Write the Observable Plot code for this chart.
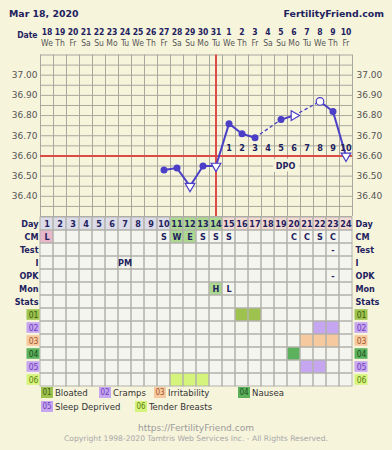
<!DOCTYPE html>
<html><head><meta charset="utf-8">
<script src="https://cdn.jsdelivr.net/npm/d3@7"></script>
<script src="https://cdn.jsdelivr.net/npm/@observablehq/plot@0.6"></script>
<style>
html,body{margin:0;padding:0;background:#f7f4dc;}
#wrap{position:relative;width:392px;height:450px;overflow:hidden;background:#f7f4dc;font-family:"DejaVu Sans",sans-serif;}
#wrap svg{position:absolute;left:0;overflow:visible;background:none;}
.abs{position:absolute;white-space:nowrap;line-height:1;}
.box{position:absolute;width:12px;height:11px;font-size:8px;text-align:center;line-height:11px;font-family:"DejaVu Sans Condensed","DejaVu Sans",sans-serif;}
.lg{position:absolute;font-size:9.5px;color:#333;line-height:11px;white-space:nowrap;font-family:"DejaVu Sans Condensed","DejaVu Sans",sans-serif;}
</style></head><body><div id="wrap"></div>
<script>
// ---------- data ----------
const dateLabels = ["18","19","20","21","22","23","24","25","26","27","28","29","30","31","1","2","3","4","5","6","7","8","9","10"];
const weekdayLabels = ["We","Th","Fr","Sa","Su","Mo","Tu","We","Th","Fr","Sa","Su","Mo","Tu","We","Th","Fr","Sa","Su","Mo","Tu","We","Th","Fr"];
const cycleDays = d3.range(1, 25);
const tempDays   = [10, 11, 12, 13, 14, 15, 16, 17, 19, 20, 22, 23, 24];
const tempValues = [36.53, 36.54, 36.45, 36.55, 36.55, 36.76, 36.71, 36.69, 36.78, 36.80, 36.87, 36.82, 36.60];
const tempMarkers = ["dot","dot","tri","dot","tri","dot","dot","dot","dot","triR","open","dot","tri"];
const coverline = 36.60;
const ovulationDay = 14;
const dpoDays = [15,16,17,18,19,20,21,22,23,24];
const dpoLabels = ["1","2","3","4","5","6","7","8","9","10"];
const tempTicks = [36.40, 36.50, 36.60, 36.70, 36.80, 36.90, 37.00];
const rowNames = ["Day","CM","Test","I","OPK","Mon","Stats","01","02","03","04","05","06"];
const phaseDays = [[1,2,3,4,5,6,7,8,9,10],[11,12,13,14],[15,16,17,18,19,20,21,22,23,24]];
const phaseColors = ["#dcdbe8","#acd98f","#f3dad2"];
const cmDays  = [1, 10, 11, 12, 13, 14, 15, 20, 21, 22, 23];
const cmCodes = ["L","S","W","E","S","S","S","C","C","S","C"];
const cmColoredDays = [1, 11, 12];
const cmColoredFills = ["#e8b7c9", "#acd98f", "#acd98f"];
const testDays = [23], testCodes = ["-"];
const intercourseDays = [7], intercourseCodes = ["PM"];
const opkDays = [23], opkCodes = ["-"];
const monDays = [14, 15], monCodes = ["H", "L"];
const monColoredDays = [14], monColoredFills = ["#acd98f"];
const symptomCodes = ["01","02","03","04","05","06"];
const symptomNames = ["Bloated","Cramps","Irritability","Nausea","Sleep Deprived","Tender Breasts"];
const symptomColors = ["#9dc34e","#c6a5f1","#f7c99e","#5cb15c","#c6a5f1","#d5f47c"];
const symptomTextColors = ["#3f5c12","#6b3fb3","#a2582e","#1d4f1d","#6b3fb3","#5d7d12"];
const symptomDays = [[16,17],[22,23],[21,22,23],[20],[21,22],[11,12,13]];

// ---------- style ----------
const NAVY = "#22225e", BLUE = "#4a3fc6", RED = "#dc4b47", GRID = "#a8a89f", BG = "#f7f4dc";
const FONT = "'DejaVu Sans', sans-serif";
const FONTC = "'DejaVu Sans Condensed', 'DejaVu Sans', sans-serif";
const wrap = document.getElementById("wrap");

function place(el, top) { el.style.top = top + "px"; wrap.appendChild(el); }
function addText(txt, css) { const d = document.createElement("div"); d.className = "abs"; d.textContent = txt; Object.assign(d.style, css); wrap.appendChild(d); return d; }

// title
addText("Mar 18, 2020", {left: "9px", top: "9px", fontSize: "9.4px", fontWeight: "bold", color: NAVY});
addText("FertilityFriend.com", {right: "8px", top: "9px", fontSize: "9.4px", fontWeight: "bold", color: NAVY});

const common = {width: 392, marginLeft: 40, marginRight: 40, x: {domain: [0.5, 24.5], axis: null}, style: {background: "none", overflow: "visible", fontFamily: FONT}};

// ---------- header (dates) ----------
const header = Plot.plot({
  ...common, height: 30, marginTop: 0, marginBottom: 0,
  y: {type: "point", domain: ["date", "wd"], range: [11.7, 23.3], padding: 0, axis: null},
  marks: [
    Plot.text(cycleDays, {x: d => d, y: () => "date", text: (d, i) => dateLabels[i], fill: NAVY, fontWeight: "bold", fontSize: 8.5, fontFamily: FONTC}),
    Plot.text(cycleDays, {x: d => d, y: () => "wd", text: (d, i) => weekdayLabels[i], fill: "#555", fontSize: 8.5, fontFamily: FONTC}),
    Plot.text(["Date"], {y: () => "date", frameAnchor: "left", textAnchor: "end", dx: -3, dy: 2.5, fill: NAVY, fontWeight: "bold", fontSize: 8.5, fontFamily: FONTC})
  ]
});
place(header, 20);

// ---------- temperature chart ----------
const tempData = tempDays.map((d, i) => ({day: d, temp: tempValues[i], marker: tempMarkers[i]}));
const segs = d3.pairs(tempData).map(([a, b]) => ({x1: a.day, y1: a.temp, x2: b.day, y2: b.temp, dashed: b.day - a.day > 1}));
const gridX = d3.range(0, 25).map(k => k + 0.5);
const gridY = d3.range(0, 17).map(k => 36.30 + k * 0.05);
const temp = Plot.plot({
  ...common, height: 170, marginTop: 4.5, marginBottom: 4,
  y: {domain: [36.3, 37.1], axis: null},
  marks: [
    Plot.ruleX(gridX, {stroke: GRID, strokeWidth: 1}),
    Plot.ruleY(gridY, {stroke: GRID, strokeWidth: 1}),
    Plot.axisY(tempTicks, {anchor: "left", tickSize: 0, tickPadding: 3, tickFormat: d => d.toFixed(2), fill: "#555", fontSize: 9}),
    Plot.axisY(tempTicks, {anchor: "right", tickSize: 0, tickPadding: 4, tickFormat: d => d.toFixed(2), fill: "#555", fontSize: 9}),
    Plot.ruleY([coverline], {stroke: RED, strokeWidth: 2}),
    Plot.ruleX([ovulationDay], {stroke: RED, strokeWidth: 2}),
    Plot.link(segs.filter(s => !s.dashed), {x1: "x1", y1: "y1", x2: "x2", y2: "y2", stroke: BLUE, strokeWidth: 2}),
    Plot.link(segs.filter(s => s.dashed), {x1: "x1", y1: "y1", x2: "x2", y2: "y2", stroke: BLUE, strokeWidth: 1.3, strokeDasharray: "3.5,2.5"}),
    Plot.text(dpoDays, {x: d => d, y: () => coverline, dy: -8, text: (d, i) => dpoLabels[i], fill: NAVY, fontWeight: "bold", fontSize: 9, fontFamily: FONTC}),
    Plot.text(["DPO"], {x: () => d3.mean(dpoDays), y: () => coverline, dy: 10, dx: -2, text: d => d, fill: NAVY, fontWeight: "bold", fontSize: 9, stroke: BG, strokeWidth: 7, fontFamily: FONTC}),
    Plot.dot(tempData.filter(d => d.marker === "dot"), {x: "day", y: "temp", r: 3.5, fill: BLUE}),
    Plot.dot(tempData.filter(d => d.marker === "open"), {x: "day", y: "temp", r: 3.8, fill: "#fff", stroke: BLUE, strokeWidth: 1.2}),
    Plot.dot(tempData.filter(d => d.marker === "tri"), {x: "day", y: "temp", symbol: "triangle", rotate: 180, r: 3.6, fill: "#fff", stroke: BLUE, strokeWidth: 1.2}),
    Plot.dot(tempData.filter(d => d.marker === "triR"), {x: "day", y: "temp", symbol: "triangle", rotate: 90, r: 3.6, fill: "#fff", stroke: BLUE, strokeWidth: 1.2})
  ]
});
place(temp, 50);

// ---------- table ----------
const allCells = d3.cross(rowNames, cycleDays).map(([row, day]) => ({row, day}));
const phaseCells = phaseDays.flatMap((ds, p) => ds.map(day => ({row: "Day", day, fill: phaseColors[p]})));
const cmCells = cmColoredDays.map((day, i) => ({row: "CM", day, fill: cmColoredFills[i]}));
const monCells = monColoredDays.map((day, i) => ({row: "Mon", day, fill: monColoredFills[i]}));
const symCells = symptomDays.flatMap((ds, s) => ds.map(day => ({row: symptomCodes[s], day, fill: symptomColors[s]})));
const coloredCells = [...phaseCells, ...cmCells, ...monCells, ...symCells];
const textRows = [
  ...cycleDays.map((day, i) => ({row: "Day", day, t: String(day)})),
  ...cmDays.map((day, i) => ({row: "CM", day, t: cmCodes[i]})),
  ...testDays.map((day, i) => ({row: "Test", day, t: testCodes[i]})),
  ...intercourseDays.map((day, i) => ({row: "I", day, t: intercourseCodes[i]})),
  ...opkDays.map((day, i) => ({row: "OPK", day, t: opkCodes[i]})),
  ...monDays.map((day, i) => ({row: "Mon", day, t: monCodes[i]}))
];
const plainRows = rowNames.slice(0, 7);
const cellOpts = {x1: d => d.day - 0.5, x2: d => d.day + 0.5, y: "row"};
const table = Plot.plot({
  ...common, height: 182, marginTop: 6, marginBottom: 5.7,
  y: {type: "band", domain: rowNames, padding: 0, axis: null},
  marks: [
    Plot.barX(allCells, {...cellOpts, fill: "#f5f5ef"}),
    Plot.barX(coloredCells, {...cellOpts, fill: "fill"}),
    Plot.barX(allCells, {...cellOpts, fill: "none", stroke: "#b2b2ab", strokeWidth: 1}),
    Plot.text(textRows, {x: "day", y: "row", text: "t", fill: NAVY, fontWeight: "bold", fontSize: 9, fontFamily: FONTC}),
    Plot.text(plainRows, {y: d => d, frameAnchor: "left", textAnchor: "end", dx: -2, fill: NAVY, fontWeight: "bold", fontSize: 9, fontFamily: FONTC}),
    Plot.text(plainRows, {y: d => d, frameAnchor: "right", textAnchor: "start", dx: 3, fill: NAVY, fontWeight: "bold", fontSize: 9, fontFamily: FONTC}),
    Plot.barX(symptomCodes, {x1: () => cycleDays[0] - 0.5, x2: () => cycleDays[0] + 0.5, y: d => d, dx: -13.5, insetTop: 1.2, insetBottom: 1.2, fill: (d, i) => symptomColors[i]}),
    Plot.barX(symptomCodes, {x1: () => cycleDays[23] - 0.5, x2: () => cycleDays[23] + 0.5, y: d => d, dx: 15.5, insetTop: 1.2, insetBottom: 1.2, fill: (d, i) => symptomColors[i]}),
    Plot.text(symptomCodes, {x: () => cycleDays[0], y: d => d, dx: -13.5, fill: (d, i) => symptomTextColors[i], fontSize: 8.5, fontFamily: FONTC}),
    Plot.text(symptomCodes, {x: () => cycleDays[23], y: d => d, dx: 15.5, fill: (d, i) => symptomTextColors[i], fontSize: 8.5, fontFamily: FONTC})
  ]
});
place(table, 210);

// ---------- legend (HTML, below the chart) ----------
const legendPos = [[41, 387], [99, 387], [154, 387], [238, 387], [41, 401], [135, 401]];
symptomCodes.forEach((c, i) => {
  const b = document.createElement("div"); b.className = "box"; b.textContent = c;
  b.style.left = legendPos[i][0] + "px"; b.style.top = legendPos[i][1] + "px";
  b.style.background = symptomColors[i]; b.style.color = symptomTextColors[i];
  wrap.appendChild(b);
  const t = document.createElement("div"); t.className = "lg"; t.textContent = symptomNames[i];
  t.style.left = (legendPos[i][0] + 14) + "px"; t.style.top = legendPos[i][1] + "px";
  wrap.appendChild(t);
});
addText("https://FertilityFriend.com", {left: "0", width: "392px", textAlign: "center", top: "424px", fontSize: "9px", color: "#9a9a9a"});
addText("Copyright 1998-2020 Tamtris Web Services Inc. - All Rights Reserved.", {left: "0", width: "392px", textAlign: "center", top: "435px", fontSize: "7.6px", color: "#a8a8a8"});
</script></body></html>
